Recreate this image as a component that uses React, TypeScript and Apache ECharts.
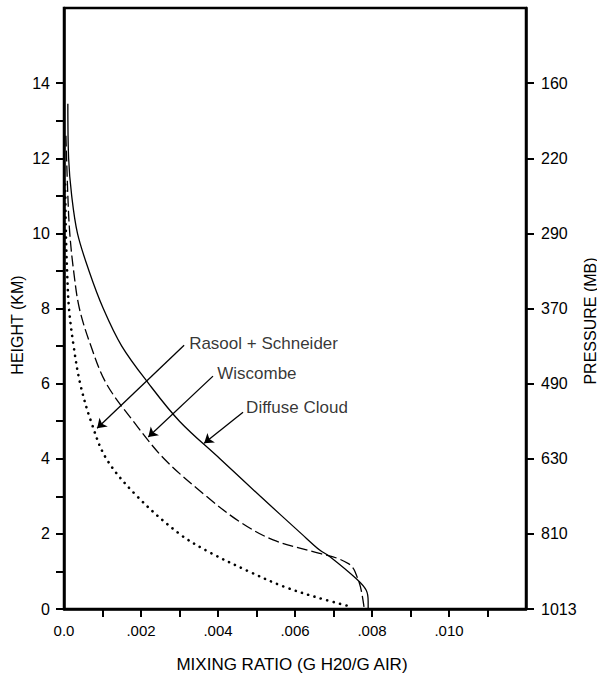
import React, { useEffect, useRef } from "react";
import * as echarts from "echarts";

// Diffuse Cloud (solid): height (km) and mixing ratio (g/g)
const diffuseH = [13.45, 12, 11, 10, 9, 8, 7, 6, 5, 4, 3, 2, 1.57, 1.4, 0.8, 0.5, 0.2, 0];
const diffuseX = [0.0001, 0.00012, 0.0002, 0.00035, 0.00065, 0.00102, 0.0015, 0.0022, 0.003, 0.00405, 0.0051, 0.00617, 0.00664, 0.0069, 0.0076, 0.00785, 0.0079, 0.0079];

// Wiscombe (dashed)
const wiscH = [12.6, 11, 10, 9, 8, 7, 6, 5, 4, 3, 2.32, 1.84, 1.48, 1.35, 1.2, 1.1, 0.99, 0.59, 0];
const wiscX = [0.00005, 0.0001, 0.00015, 0.00025, 0.0004, 0.0007, 0.0011, 0.0018, 0.0026, 0.0037, 0.00457, 0.00543, 0.00664, 0.0071, 0.0074, 0.0075, 0.00756, 0.0077, 0.0078];

// Rasool + Schneider (dotted)
const rasoolH = [11.3, 10, 9, 8, 7, 6, 5, 4, 3, 2, 1.5, 1, 0.6, 0.3, 0.05];
const rasoolX = [0.00003, 0.00005, 0.00008, 0.00013, 0.00025, 0.00042, 0.0007, 0.0011, 0.0019, 0.003, 0.0038, 0.0048, 0.0057, 0.0066, 0.0075];

// Axis ticks and labels
const xMinorTicks = [0.001, 0.002, 0.003, 0.004, 0.005, 0.006, 0.007, 0.008, 0.009, 0.01, 0.011];
const xLabelValues = [0, 0.002, 0.004, 0.006, 0.008, 0.01];
const xLabels = ["0.0", ".002", ".004", ".006", ".008", ".010"];
const yTickValues = [0, 1, 2, 3, 4, 5, 6, 7, 8, 9, 10, 11, 12, 13, 14];
const yLabelValues = [0, 2, 4, 6, 8, 10, 12, 14];
const pressureLabels = ["1013", "810", "630", "490", "370", "290", "220", "160"];

// Annotations (data coordinates)
const annLabels = ["Rasool + Schneider", "Wiscombe", "Diffuse Cloud"];
const annText = [[0.00325, 7.07], [0.00398, 6.28], [0.00473, 5.37]];
const annFrom = [[0.00312, 7.02], [0.00387, 6.2], [0.00465, 5.24]];
const annTo = [[0.00086, 4.81], [0.00219, 4.58], [0.00364, 4.41]];

const zip = (xs: number[], ys: number[]) => xs.map((x, i) => [x, ys[i]]);

const FONT = "Liberation Sans";

export default function App() {
  const ref = useRef<HTMLDivElement>(null);
  useEffect(() => {
    if (!ref.current) return;
    const chart = echarts.init(ref.current, null, { renderer: "svg" });
    const txt = { color: "#000", fontFamily: FONT, fontSize: 15 };
    chart.setOption({
      animation: false,
      backgroundColor: "#fff",
      grid: {
        left: 64,
        right: 71,
        top: 8,
        bottom: 66,
        show: true,
        borderColor: "#000",
        borderWidth: 2.5,
        outerBoundsMode: "none",
        containLabel: false,
      },
      graphic: [
        {
          type: "text",
          x: 292,
          y: 664,
          style: { text: "MIXING RATIO (G H20/G AIR)", fill: "#000", font: `17px "${FONT}"`, align: "center", verticalAlign: "middle" },
        },
        {
          type: "text",
          x: 17.5,
          y: 325,
          rotation: Math.PI / 2,
          style: { text: "HEIGHT (KM)", fill: "#000", font: `16px "${FONT}"`, align: "center", verticalAlign: "middle" },
        },
        {
          type: "text",
          x: 590,
          y: 321,
          rotation: Math.PI / 2,
          style: { text: "PRESSURE (MB)", fill: "#000", font: `16px "${FONT}"`, align: "center", verticalAlign: "middle" },
        },
      ],
      xAxis: {
        type: "value",
        min: 0,
        max: 0.012,
        interval: 0.001,
        axisLine: { show: true, lineStyle: { color: "#000", width: 2.5 } },
        axisTick: { show: true, length: 8, customValues: xMinorTicks, lineStyle: { color: "#000", width: 2 } },
        axisLabel: {
          ...txt,
          margin: 14,
          customValues: xLabelValues,
          formatter: (v: number) => {
            const i = xLabelValues.findIndex((t) => Math.abs(t - v) < 1e-7);
            return i >= 0 ? xLabels[i] : "";
          },
        },
        splitLine: { show: false },
      },
      yAxis: [
        {
          type: "value",
          min: 0,
          max: 16,
          interval: 1,
          axisLine: { show: true, lineStyle: { color: "#000", width: 2.5 } },
          axisTick: { show: true, length: 8, customValues: yTickValues, lineStyle: { color: "#000", width: 2 } },
          axisLabel: { ...txt, fontSize: 16, margin: 14, customValues: yLabelValues, formatter: (v: number) => String(v) },
          splitLine: { show: false },
        },
        {
          type: "value",
          position: "right",
          min: 0,
          max: 16,
          interval: 2,
          axisLine: { show: true, lineStyle: { color: "#000", width: 2.5 } },
          axisTick: { show: true, length: 8, customValues: yLabelValues, lineStyle: { color: "#000", width: 2 } },
          axisLabel: {
            ...txt,
            fontSize: 16,
            margin: 15,
            customValues: yLabelValues,
            formatter: (v: number) => pressureLabels[Math.round(v / 2)] ?? "",
          },
          splitLine: { show: false },
        },
      ],
      series: [
        {
          name: "Diffuse Cloud",
          type: "line",
          data: zip(diffuseX, diffuseH),
          showSymbol: false,
          smooth: 0.35,
          lineStyle: { color: "#000", width: 1.3, type: "solid" },
        },
        {
          name: "Wiscombe",
          type: "line",
          data: zip(wiscX, wiscH),
          showSymbol: false,
          smooth: 0.35,
          lineStyle: { color: "#000", width: 1.3, type: [11, 4] },
        },
        {
          name: "Rasool + Schneider",
          type: "line",
          data: zip(rasoolX, rasoolH),
          showSymbol: false,
          smooth: 0.35,
          lineStyle: { color: "#000", width: 2.6, type: [0.1, 6.5], cap: "round" },
          markLine: {
            silent: true,
            symbol: ["none", "arrow"],
            symbolSize: 9,
            label: { show: false },
            lineStyle: { color: "#000", width: 1.3, type: "solid" },
            data: annFrom.map((f, i) => [
              { coord: f, symbol: "none" },
              { coord: annTo[i], symbol: "arrow" },
            ]),
          },
        },
        {
          name: "labels",
          type: "scatter",
          symbolSize: 0,
          silent: true,
          data: annText.map((p, i) => ({ value: p, name: annLabels[i] })),
          label: {
            show: true,
            position: "right",
            distance: 0,
            formatter: (p: any) => p.name,
            ...txt,
            fontSize: 17,
          },
        },
      ],
    });
    return () => chart.dispose();
  }, []);
  return <div ref={ref} style={{ position: "absolute", left: 0, top: 0, width: 597, height: 675 }} />;
}
